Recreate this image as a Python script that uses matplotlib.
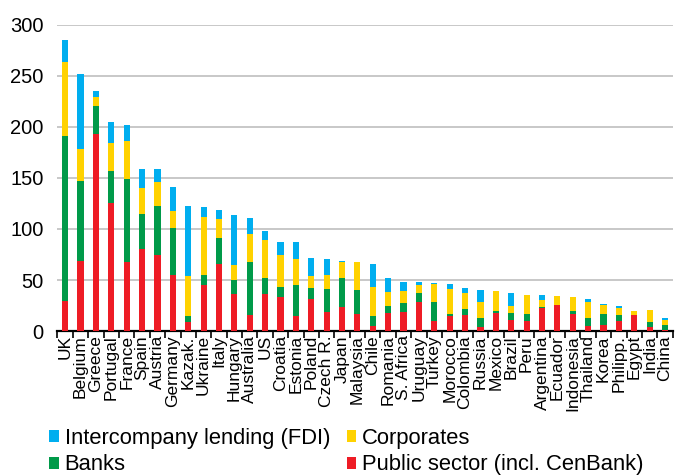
import matplotlib
matplotlib.use("Agg")
import matplotlib.pyplot as plt
import numpy as np

plt.rcParams['font.family'] = ['Liberation Sans', 'DejaVu Sans']

countries = ["UK", "Belgium", "Greece", "Portugal", "France", "Spain", "Austria", "Germany",
             "Kazak.", "Ukraine", "Italy", "Hungary", "Australia", "US", "Croatia", "Estonia",
             "Poland", "Czech R.", "Japan", "Malaysia", "Chile", "Romania", "S. Africa", "Uruguay",
             "Turkey", "Morocco", "Colombia", "Russia", "Mexico", "Brazil", "Peru", "Argentina",
             "Ecuador", "Indonesia", "Thailand", "Korea", "Philipp.", "Egypt", "India", "China"]

public_sector = [29, 69, 193, 125.5, 68, 80, 74.6, 55, 9, 45, 66, 36.5, 16, 36, 33.6, 14.4,
                 31, 19, 24, 16.6, 4.6, 18, 18.6, 28.7, 9.8, 14.7, 15.7, 3.6, 17.6, 10.8, 9.8, 22.8,
                 25.4, 16.3, 4.9, 5.5, 9.8, 16, 3.6, 1]
banks = [162, 78, 27, 31.5, 81, 35, 47.4, 46, 5.7, 10, 25, 13.5, 51.5, 16, 9.4, 30.3,
         11, 22, 27.5, 23.8, 10.1, 7, 9.1, 8.3, 18.6, 1.6, 5.5, 8.8, 2.3, 7.2, 6.5, 0.5,
         0, 3.3, 7.5, 11.7, 5.5, 0, 5.5, 5.2]
corporates = [72, 31, 9.5, 27, 37, 25, 23.7, 17, 39.3, 57, 19, 15, 28, 37, 31.7, 25.7,
              11.5, 14, 16.5, 27.6, 28.7, 13, 11.8, 7.7, 17.3, 25.1, 15.7, 16, 18.9, 6.5, 18.6, 7.2,
              9.1, 14, 15.7, 8.2, 6.9, 3.6, 11.1, 4.2]
intercompany = [22, 74, 5.5, 21, 16, 19, 13.3, 23, 68, 9.5, 9, 49, 15, 9, 12.1, 16.4,
                17.9, 16, 1, 0, 22.6, 13.5, 8.5, 2.9, 1.3, 4.3, 5.2, 11.4, 0, 12.4, 0, 4.9,
                0, 0, 3.6, 1.3, 2, 0, 0, 2]

yticks = [0, 50, 100, 150, 200, 250, 300]

c_blue = "#00AEEF"
c_yellow = "#FFD200"
c_green = "#009A49"
c_red = "#EE1C25"

fig = plt.figure(figsize=(6.84, 4.75), dpi=100)
ax = fig.add_axes([0.084, 0.303, 0.8995, 0.645])

x = np.arange(len(countries))
w = 0.4
pub = np.array(public_sector)
bnk = np.array(banks)
cor = np.array(corporates)
icl = np.array(intercompany)

b_red = ax.bar(x, pub, w, color=c_red, zorder=3, label="Public sector (incl. CenBank)")
b_green = ax.bar(x, bnk, w, bottom=pub, color=c_green, zorder=3, label="Banks")
b_yellow = ax.bar(x, cor, w, bottom=pub + bnk, color=c_yellow, zorder=3, label="Corporates")
b_blue = ax.bar(x, icl, w, bottom=pub + bnk + cor, color=c_blue, zorder=3,
                label="Intercompany lending (FDI)")

ax.set_xlim(-0.5, len(countries) - 0.5)
ax.set_ylim(0, 300)
ax.set_yticks(yticks)
ax.set_yticklabels([str(t) for t in yticks], fontsize=14.5)
ax.tick_params(axis='y', length=0, pad=10)
ax.yaxis.grid(True, color="#c8c8c8", linewidth=1.4, zorder=0)
ax.set_axisbelow(True)

ax.set_xticks(x)
ax.set_xticklabels(countries, rotation=90, fontsize=12.5, va='top', ha='center')
ax.tick_params(axis='x', length=0, pad=3)
ax.set_xticks(np.arange(len(countries) + 1) - 0.5, minor=True)
ax.tick_params(axis='x', which='minor', length=5, width=1.2, color='black', direction='out')

for s in ['top', 'right', 'left']:
    ax.spines[s].set_visible(False)
ax.spines['bottom'].set_linewidth(1.6)
ax.spines['bottom'].set_color('black')

handles = [b_blue, b_green, b_yellow, b_red]
labels = [h.get_label() for h in handles]
fig.legend(handles, labels, ncol=2, loc='upper left', bbox_to_anchor=(0.072, 0.099),
           frameon=False, fontsize=15.8, handlelength=0.45, handleheight=0.45,
           handletextpad=0.25, columnspacing=0.75, labelspacing=0.25, borderaxespad=0,
           borderpad=0)

fig.savefig("out.png", dpi=100)
